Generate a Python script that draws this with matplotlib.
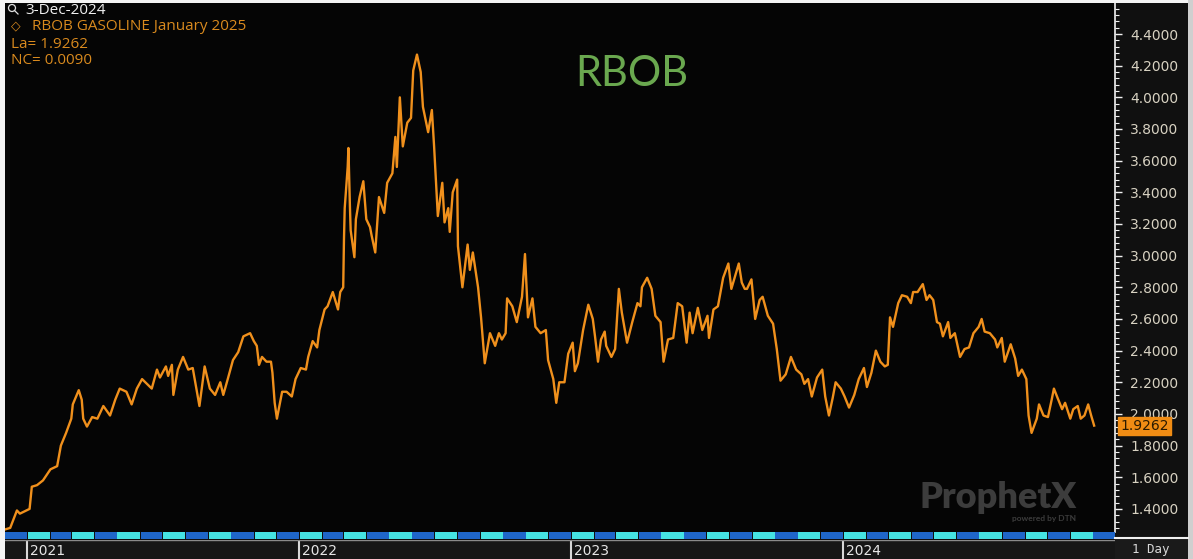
import matplotlib
matplotlib.use('Agg')
import matplotlib.pyplot as plt
from matplotlib.patches import Rectangle, Ellipse
from matplotlib.ticker import MultipleLocator, FormatStrFormatter
import pandas as pd

# 1) Data (RBOB Gasoline Jan 2025 contract)
dates = [
    '2020-12-02', '2020-12-09', '2020-12-18', '2020-12-22', '2021-01-04', '2021-01-07',
    '2021-01-14', '2021-01-22', '2021-02-01', '2021-02-10', '2021-02-15', '2021-02-22',
    '2021-03-01', '2021-03-03', '2021-03-11', '2021-03-15', '2021-03-17', '2021-03-22',
    '2021-03-29', '2021-04-05', '2021-04-13', '2021-04-22', '2021-04-29', '2021-05-05',
    '2021-05-14', '2021-05-21', '2021-05-28', '2021-06-04', '2021-06-17', '2021-06-24',
    '2021-06-28', '2021-07-06', '2021-07-09', '2021-07-14', '2021-07-16', '2021-07-22',
    '2021-07-29', '2021-08-05', '2021-08-11', '2021-08-20', '2021-08-27', '2021-09-03',
    '2021-09-10', '2021-09-17', '2021-09-21', '2021-09-27', '2021-10-04', '2021-10-11',
    '2021-10-18', '2021-10-27', '2021-11-01', '2021-11-05', '2021-11-08', '2021-11-12',
    '2021-11-18', '2021-11-24', '2021-11-26', '2021-11-29', '2021-12-02', '2021-12-09',
    '2021-12-15', '2021-12-22', '2021-12-27', '2022-01-03', '2022-01-10', '2022-01-13',
    '2022-01-19', '2022-01-25', '2022-01-28', '2022-02-04', '2022-02-08', '2022-02-15',
    '2022-02-22', '2022-02-25', '2022-03-01', '2022-03-02', '2022-03-03', '2022-03-07',
    '2022-03-08', '2022-03-10', '2022-03-11', '2022-03-16', '2022-03-18', '2022-03-23',
    '2022-03-28', '2022-04-01', '2022-04-06', '2022-04-08', '2022-04-13', '2022-04-18',
    '2022-04-25', '2022-04-29', '2022-05-06', '2022-05-10', '2022-05-12', '2022-05-16',
    '2022-05-20', '2022-05-26', '2022-05-31', '2022-06-03', '2022-06-08', '2022-06-13',
    '2022-06-16', '2022-06-23', '2022-06-28', '2022-07-01', '2022-07-06', '2022-07-12',
    '2022-07-15', '2022-07-20', '2022-07-22', '2022-07-26', '2022-08-01', '2022-08-02',
    '2022-08-08', '2022-08-15', '2022-08-18', '2022-08-22', '2022-08-29', '2022-09-02',
    '2022-09-07', '2022-09-14', '2022-09-21', '2022-09-26', '2022-09-30', '2022-10-05',
    '2022-10-07', '2022-10-14', '2022-10-20', '2022-10-27', '2022-10-31', '2022-11-04',
    '2022-11-10', '2022-11-14', '2022-11-21', '2022-11-28', '2022-12-01', '2022-12-08',
    '2022-12-12', '2022-12-16', '2022-12-23', '2022-12-28', '2023-01-03', '2023-01-06',
    '2023-01-10', '2023-01-17', '2023-01-24', '2023-01-30', '2023-02-02', '2023-02-06',
    '2023-02-10', '2023-02-15', '2023-02-17', '2023-02-24', '2023-03-01', '2023-03-06',
    '2023-03-10', '2023-03-17', '2023-03-24', '2023-03-31', '2023-04-04', '2023-04-06',
    '2023-04-13', '2023-04-19', '2023-04-24', '2023-05-01', '2023-05-05', '2023-05-11',
    '2023-05-18', '2023-05-24', '2023-05-30', '2023-06-05', '2023-06-09', '2023-06-13',
    '2023-06-20', '2023-06-26', '2023-07-03', '2023-07-05', '2023-07-11', '2023-07-17',
    '2023-07-24', '2023-07-31', '2023-08-04', '2023-08-14', '2023-08-18', '2023-08-22',
    '2023-08-25', '2023-08-31', '2023-09-05', '2023-09-11', '2023-09-15', '2023-09-22',
    '2023-09-29', '2023-10-04', '2023-10-09', '2023-10-16', '2023-10-23', '2023-10-30',
    '2023-11-06', '2023-11-10', '2023-11-15', '2023-11-20', '2023-11-27', '2023-12-04',
    '2023-12-08', '2023-12-13', '2023-12-18', '2023-12-22', '2023-12-29', '2024-01-03',
    '2024-01-09', '2024-01-16', '2024-01-22', '2024-01-29', '2024-02-02', '2024-02-08',
    '2024-02-14', '2024-02-20', '2024-02-26', '2024-03-01', '2024-03-04', '2024-03-08',
    '2024-03-15', '2024-03-20', '2024-03-27', '2024-04-01', '2024-04-04', '2024-04-10',
    '2024-04-17', '2024-04-22', '2024-04-26', '2024-05-01', '2024-05-06', '2024-05-10',
    '2024-05-14', '2024-05-21', '2024-05-24', '2024-05-30', '2024-06-06', '2024-06-12',
    '2024-06-18', '2024-06-24', '2024-07-01', '2024-07-05', '2024-07-09', '2024-07-16',
    '2024-07-23', '2024-07-26', '2024-08-01', '2024-08-05', '2024-08-13', '2024-08-19',
    '2024-08-23', '2024-08-28', '2024-09-03', '2024-09-06', '2024-09-10', '2024-09-17',
    '2024-09-20', '2024-09-26', '2024-10-02', '2024-10-07', '2024-10-10', '2024-10-15',
    '2024-10-21', '2024-10-25', '2024-11-01', '2024-11-05', '2024-11-11', '2024-11-15',
    '2024-11-20', '2024-11-25', '2024-11-29', '2024-12-03',
]
prices = [
    1.27, 1.28, 1.39, 1.37, 1.40, 1.54,
    1.55, 1.58, 1.65, 1.67, 1.80, 1.88,
    1.97, 2.06, 2.15, 2.09, 1.97, 1.92,
    1.98, 1.97, 2.05, 1.99, 2.09, 2.16,
    2.14, 2.06, 2.16, 2.22, 2.16, 2.28,
    2.23, 2.30, 2.24, 2.31, 2.12, 2.28,
    2.36, 2.28, 2.29, 2.05, 2.30, 2.16,
    2.12, 2.20, 2.12, 2.22, 2.34, 2.39,
    2.49, 2.51, 2.46, 2.43, 2.31, 2.36,
    2.33, 2.33, 2.26, 2.07, 1.97, 2.14,
    2.14, 2.11, 2.22, 2.29, 2.28, 2.36,
    2.46, 2.42, 2.53, 2.66, 2.68, 2.77,
    2.66, 2.77, 2.80, 3.10, 3.30, 3.56,
    3.68, 3.31, 3.16, 2.99, 3.23, 3.37,
    3.47, 3.23, 3.18, 3.13, 3.02, 3.37,
    3.27, 3.46, 3.52, 3.75, 3.56, 4.00,
    3.69, 3.84, 3.87, 4.17, 4.27, 4.16,
    3.94, 3.78, 3.92, 3.69, 3.25, 3.46,
    3.21, 3.30, 3.15, 3.40, 3.48, 3.06,
    2.80, 3.07, 2.91, 3.02, 2.80, 2.61,
    2.32, 2.51, 2.43, 2.51, 2.47, 2.51,
    2.73, 2.68, 2.58, 2.74, 3.01, 2.61,
    2.73, 2.55, 2.51, 2.53, 2.34, 2.22,
    2.07, 2.20, 2.20, 2.38, 2.45, 2.27,
    2.32, 2.53, 2.69, 2.60, 2.49, 2.33,
    2.47, 2.52, 2.43, 2.36, 2.41, 2.79,
    2.64, 2.45, 2.58, 2.70, 2.68, 2.80,
    2.86, 2.79, 2.62, 2.58, 2.33, 2.47,
    2.48, 2.70, 2.68, 2.45, 2.64, 2.51,
    2.67, 2.53, 2.62, 2.48, 2.66, 2.68,
    2.86, 2.95, 2.79, 2.95, 2.83, 2.79,
    2.79, 2.85, 2.60, 2.72, 2.74, 2.62,
    2.57, 2.41, 2.21, 2.25, 2.36, 2.28,
    2.25, 2.19, 2.22, 2.11, 2.23, 2.28,
    2.11, 1.99, 2.10, 2.20, 2.16, 2.11,
    2.04, 2.12, 2.22, 2.29, 2.17, 2.26,
    2.40, 2.33, 2.30, 2.31, 2.61, 2.55,
    2.70, 2.75, 2.74, 2.70, 2.77, 2.77,
    2.82, 2.72, 2.75, 2.72, 2.58, 2.57,
    2.49, 2.58, 2.48, 2.51, 2.36, 2.41,
    2.42, 2.51, 2.55, 2.60, 2.52, 2.51,
    2.47, 2.42, 2.48, 2.33, 2.44, 2.35,
    2.24, 2.28, 2.22, 1.99, 1.88, 1.97,
    2.06, 1.99, 1.98, 2.09, 2.16, 2.10,
    2.03, 2.07, 1.97, 2.03, 2.05, 1.97,
    1.99, 2.06, 1.99, 1.9262,
]
year_labels = ['2021', '2022', '2023', '2024']
last_price = 1.9262
net_change = 0.0090

df = pd.DataFrame({'date': pd.to_datetime(dates), 'price': prices})
x_start, x_end = pd.Timestamp('2020-12-02'), pd.Timestamp('2024-12-31')

# 2) Figure layout in pixels
W, H = 1193, 559
fig = plt.figure(figsize=(W / 100, H / 100), dpi=100, facecolor='#101010')


def rect(x0, y0, x1, y1):
    # pixel box (from top-left) -> figure fraction
    return [x0 / W, 1 - y1 / H, (x1 - x0) / W, (y1 - y0) / H]


ax = fig.add_axes(rect(5, 3, 1115, 532), facecolor='#050505')
ax_strip = fig.add_axes(rect(5, 532, 1115, 539), facecolor='#050505', sharex=ax)
ax_date = fig.add_axes(rect(5, 540, 1115, 559), facecolor='#161616', sharex=ax)

# 3) Price line
ax.plot(df['date'], df['price'], color='#f0901c', linewidth=1.7)
ax.set_xlim(x_start, x_end)
ax.set_ylim(1.254, 4.596)

ax.yaxis.tick_right()
ax.yaxis.set_major_locator(MultipleLocator(0.2))
ax.yaxis.set_minor_locator(MultipleLocator(0.04))
ax.yaxis.set_major_formatter(FormatStrFormatter('%.4f'))
ax.tick_params(axis='y', which='major', colors='#f2f2f2', length=5, width=1,
               labelcolor='#d8d2c2', labelsize=10, pad=6)
ax.tick_params(axis='y', which='minor', colors='#f2f2f2', length=3, width=0.8)
ax.tick_params(axis='x', bottom=False, labelbottom=False)
for side in ['top', 'left', 'bottom']:
    ax.spines[side].set_visible(False)
ax.spines['right'].set_color('#f2f2f2')
ax.spines['right'].set_linewidth(1.2)

# last value marker on the axis (sits over the 2.0000 label like the original)
ax.annotate(f'{last_price:.4f}', xy=(1.0, last_price), xycoords=('axes fraction', 'data'),
            xytext=(4, 0), textcoords='offset points', va='center', ha='left',
            fontsize=10, color='#2a1a00', zorder=5,
            bbox=dict(boxstyle='square,pad=0.15', fc='#f08c14', ec='#f08c14'))

# 4) Month strip (alternating blue / cyan)
months = pd.date_range('2020-12-01', '2025-01-01', freq='MS')
for i in range(len(months) - 1):
    col = '#45e3e3' if months[i].month % 2 == 1 else '#1f66c9'
    ax_strip.axvspan(months[i] + pd.Timedelta(days=1), months[i + 1], color=col, lw=0)
ax_strip.set_ylim(0, 1)
ax_strip.axis('off')

# 5) Date axis with year separators
for lbl in year_labels:
    t = pd.Timestamp(f'{lbl}-01-01')
    ax_date.axvline(t, color='#d8d8d8', linewidth=1.5)
    ax_date.text(t + pd.Timedelta(days=4), 0.4, lbl, color='#e6e6e6', fontsize=10,
                 ha='left', va='center')
ax_date.set_ylim(0, 1)
ax_date.set_xticks([])
ax_date.set_yticks([])
for s in ax_date.spines.values():
    s.set_visible(False)
ax_date.plot([0, 1], [1, 1], transform=ax_date.transAxes, color='#8a8a8a', lw=1)

# 6) Right-hand "1 Day" box and frame borders
fig.add_artist(Rectangle((1115 / W, 0), 78 / W, 22 / H, transform=fig.transFigure,
                         fc='#1a1a1a', ec='none'))
fig.add_artist(plt.Line2D([1115 / W, 1188 / W], [1 - 538 / H, 1 - 538 / H],
                          transform=fig.transFigure, color='#f0f0f0', lw=1.5))
fig.text(1151 / W, 1 - 549 / H, '1 Day', family='DejaVu Sans Mono', fontsize=9,
         color='#d8d8d8', ha='center', va='center')
fig.add_artist(Rectangle((0, 0), 5 / W, 1, transform=fig.transFigure, fc='#f4f4f4', ec='none'))
fig.add_artist(Rectangle((0, 1 - 3 / H), 1, 3 / H, transform=fig.transFigure,
                         fc='#f4f4f4', ec='none'))
fig.add_artist(Rectangle((1188 / W, 0), 5 / W, 1, transform=fig.transFigure,
                         fc='#cfcfcf', ec='none'))

# 7) Header texts
fig.add_artist(Ellipse((12 / W, 1 - 8 / H), 7 / W, 7 / H, transform=fig.transFigure,
                       fill=False, ec='#e0e0e0', lw=0.9))
fig.add_artist(plt.Line2D([14.5 / W, 18 / W], [1 - 10.5 / H, 1 - 14 / H],
                          transform=fig.transFigure, color='#e0e0e0', lw=0.9))
hdr = dict(family='Open Sans', fontsize=11, ha='left', va='center', zorder=10)
fig.text(25 / W, 1 - 11 / H, '3-Dec-2024', color='#f0f0f0', **hdr)
fig.text(11 / W, 1 - 26 / H, '\u25c7', color='#d98a1e', family='DejaVu Sans',
         fontsize=9, ha='left', va='center')
fig.text(32 / W, 1 - 27 / H, 'RBOB GASOLINE January 2025', color='#d98a1e', **hdr)
fig.text(11 / W, 1 - 44 / H, f'La= {last_price:.4f}', color='#d98a1e', **hdr)
fig.text(11 / W, 1 - 61 / H, f'NC= {net_change:.4f}', color='#d98a1e', **hdr)

# big title and watermark
fig.text(632 / W, 1 - 74 / H, 'RBOB', family='Lato', fontsize=30, color='#6aa84f',
         ha='center', va='center')
fig.text(998 / W, 1 - 498 / H, 'ProphetX', family='Lato', fontweight='heavy', fontsize=26,
         color='#3c3c3c', ha='center', va='center')
fig.text(1076 / W, 1 - 519 / H, 'powered by DTN', family='Lato', fontweight='bold',
         fontsize=6, color='#3c3c3c', ha='right', va='center')

# 8) Save the figure
plt.savefig('out.png', dpi=100, facecolor=fig.get_facecolor())
plt.close(fig)
